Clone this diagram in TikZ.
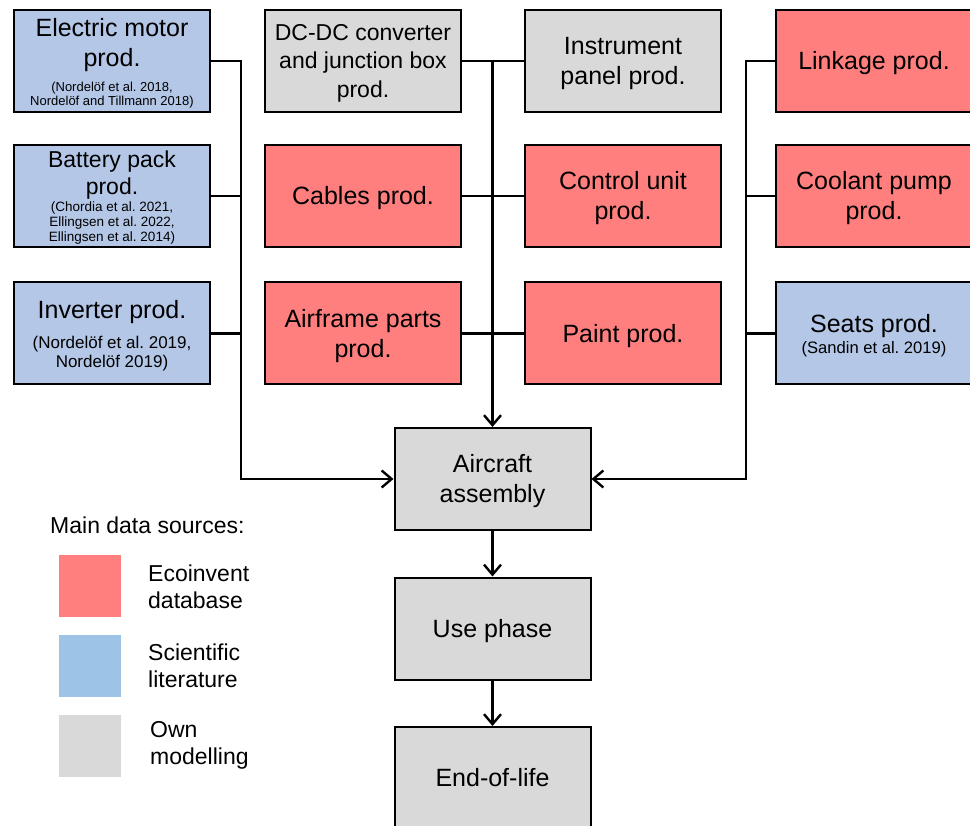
\documentclass[tikz,border=0pt]{standalone}
\usepackage{fontspec}
\setmainfont{Liberation Sans}
\usetikzlibrary{arrows.meta}
\definecolor{ecored}{RGB}{255,127,127}
\definecolor{scifill}{RGB}{180,199,231}
\definecolor{scileg}{RGB}{157,195,230}
\definecolor{ownfill}{RGB}{217,217,217}
\newcommand\fsz[2]{\fontsize{#1}{#2}\selectfont\spaceskip=0pt\xspaceskip=0pt\frenchspacing}
\newcommand\topstr{\rule{0pt}{0.905em}}
\newcommand\botstr{\rule[-0.212em]{0pt}{0.212em}}
\newcommand\fullstr{\rule[-0.212em]{0pt}{1.117em}}
\begin{document}
\frenchspacing
\begin{tikzpicture}[x=1pt,y=-1pt,
  procbox/.style={draw=black,line width=2pt,minimum width=196pt,minimum height=102pt,
    text width=192pt,align=flush center,inner sep=0pt,font=\fsz{25}{30}},
  ecobox/.style={procbox,fill=ecored},
  scibox/.style={procbox,fill=scifill},
  ownbox/.style={procbox,fill=ownfill},
  conn/.style={line width=2.4pt},
  arr/.style={conn,-{Straight Barb[length=10pt,width=17pt]}},
  legsq/.style={minimum size=62pt,inner sep=0pt},
  legtext/.style={anchor=west,align=left,inner sep=0pt,font=\fsz{23}{27}}
]
\useasboundingbox (0,0) rectangle (970,826);

% column 1
\node[scibox] (em) at (112,61) {\topstr Electric motor\\prod.\par\vspace{9pt}{\fsz{13}{14}(Nordelöf et al. 2018,\\Nordelöf and Tillmann 2018)\botstr\par}};
\node[scibox] (bp) at (112,196) {{\fsz{23}{27}\topstr Battery pack\\prod.\par}\vspace{2pt}{\fsz{13.5}{15}(Chordia et al. 2021,\\Ellingsen et al. 2022,\\Ellingsen et al. 2014)\botstr\par}};
\node[scibox] (inv) at (112,333.5) {\topstr Inverter prod.\par\vspace{11pt}{\fsz{17}{19}(Nordelöf et al. 2019,\\Nordelöf 2019)\botstr\par}};

% column 2
\node[ownbox] (dc) at (363,61) {{\fsz{23}{28.5}\fullstr DC-DC converter\\and junction box\\prod.\fullstr\par}};
\node[ecobox] (cab) at (363,196) {\fullstr Cables prod.};
\node[ecobox] (af) at (363,333.5) {\fullstr Airframe parts\\prod.\fullstr};

% column 3
\node[ownbox] (ip) at (623,61) {\fullstr Instrument\\panel prod.\fullstr};
\node[ecobox] (cu) at (623,196) {\fullstr Control unit\\prod.\fullstr};
\node[ecobox] (pt) at (623,333.5) {\fullstr Paint prod.};

% column 4
\node[ecobox] (lk) at (874,61) {\fullstr Linkage prod.};
\node[ecobox] (cp) at (874,196) {\fullstr Coolant pump\\prod.\fullstr};
\node[scibox] (st) at (874,333.5) {\topstr Seats prod.\par\vspace{2pt}{\fsz{16.6}{19}(Sandin et al. 2019)\botstr\par}};

% main chain
\node[ownbox] (ac) at (492.5,479) {\fullstr Aircraft\\assembly\fullstr};
\node[ownbox] (up) at (492.5,628.5) {\fullstr Use phase};
\node[ownbox] (eol) at (492.5,778) {\fullstr End-of-life};

% legend
\node[anchor=west,inner sep=0pt,font=\fsz{23}{27}] (legtitle) at (50,525) {Main data sources:};
\node[legsq,fill=ecored] (sqeco) at (90,586) {};
\node[legsq,fill=scileg] (sqsci) at (90,666) {};
\node[legsq,fill=ownfill] (sqown) at (90,746) {};
\node[legtext] (lbeco) at (148,587) {Ecoinvent\\database};
\node[legtext] (lbsci) at (148,666) {Scientific\\literature};
\node[legtext] (lbown) at (150,745) {Own\\modelling};

% connectors
\coordinate (tl) at (241,61);
\coordinate (tr) at (746,61);
\draw[arr] (em.east) -- (tl) |- (ac.west);
\draw[conn] (bp.east) -- (bp.east -| tl);
\draw[conn] (inv.east) -- (inv.east -| tl);

\draw[conn] (dc.east) -- (ip.west);
\draw[conn] (cab.east) -- (cu.west);
\draw[conn] (af.east) -- (pt.west);
\draw[arr] (dc.east -| ac.north) -- (ac.north);

\draw[arr] (lk.west) -- (tr) |- (ac.east);
\draw[conn] (cp.west) -- (cp.west -| tr);
\draw[conn] (st.west) -- (st.west -| tr);

\draw[arr] (ac.south) -- (up.north);
\draw[arr] (up.south) -- (eol.north);
\end{tikzpicture}
\end{document}
